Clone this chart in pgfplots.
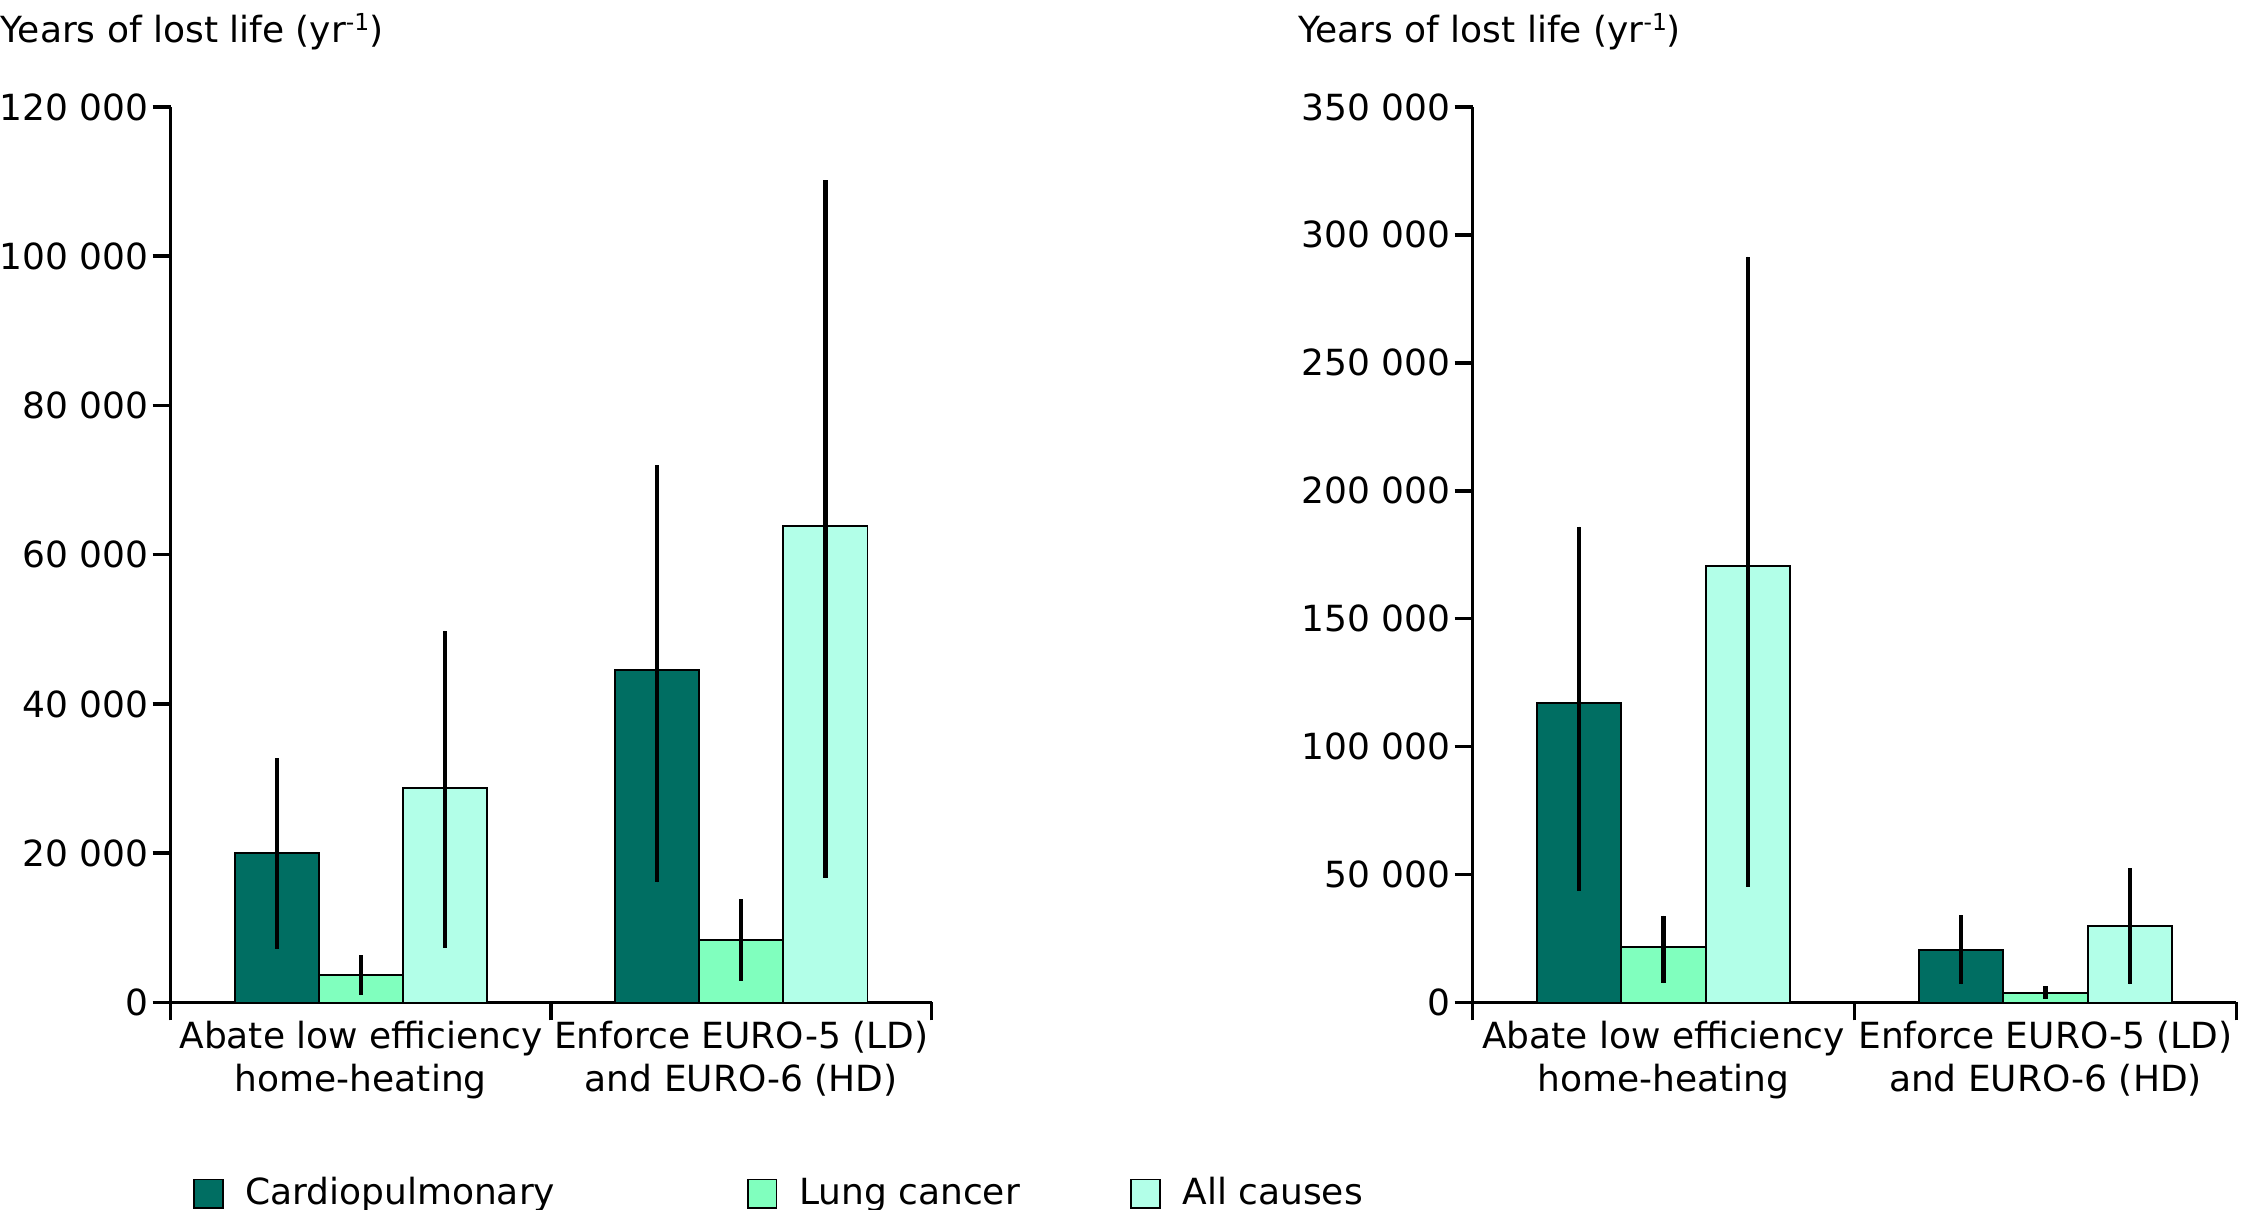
\documentclass[border=0pt]{standalone}
\usepackage{fontspec}
\setmainfont{DejaVu Sans}
\usepackage{pgfplots}
\pgfplotsset{compat=1.18}

\definecolor{cardio}{RGB}{0,110,98}
\definecolor{lung}{RGB}{128,255,190}
\definecolor{allc}{RGB}{178,255,232}

% bars sit at 0.279 / 0.5 / 0.721 inside each category (0-1, 1-2)
\pgfplotsset{
  yll/.style={
    scale only axis, height=248.8pt,
    font=\fontsize{10}{12}\selectfont,
    axis lines=left, axis line style={-, line width=1pt},
    tick style={black, line width=1pt}, tick align=outside, major tick length=5pt,
    xmin=0, xmax=2, xtick={0,1,2}, xticklabels={,,},
    extra x ticks={0.5,1.5},
    extra x tick labels={{Abate low efficiency\\home-heating},{Enforce EURO-5 (LD)\\and EURO-6 (HD)}},
    extra x tick style={major tick length=0pt,
      tick label style={align=center, inner sep=1pt, yshift=-4pt}},
    ymin=0, scaled y ticks=false,
    yticklabel style={inner sep=1pt},
    bar width=0.221,
    every axis plot/.append style={ybar, bar shift=0pt, draw=black, line width=0.5pt},
    error bars/y dir=both, error bars/y explicit, error bars/error mark=none,
    error bars/error bar style={line width=1.2pt, black},
  },
}

\begin{document}
\begin{tikzpicture}
  \begin{axis}[yll, name=L, width=211.4pt, ymax=120000,
      ytick={0,20000,40000,60000,80000,100000,120000},
      yticklabels={0,20 000,40 000,60 000,80 000,100 000,120 000},
      legend columns=3,
      legend image code/.code={\draw[#1, line width=0.5pt] (0pt,-4pt) rectangle (8pt,4pt);},
      legend style={draw=none, fill=none, at={(rel axis cs:0,0)}, anchor=west,
        xshift=6pt, yshift=-53.2pt, inner sep=0pt, column sep=0pt,
        font=\fontsize{10}{12}\selectfont},
    ]
    \addplot[fill=cardio] coordinates {
      (0.279,20000) += (0,12700) -= (0,12800)
      (1.279,44600) += (0,27400) -= (0,28500)
    };
    \addlegendentry{\hspace*{4pt}\makebox[137.4pt][l]{Cardiopulmonary}}
    \addplot[fill=lung] coordinates {
      (0.5,3650) += (0,2650) -= (0,2650)
      (1.5,8400) += (0,5400) -= (0,5500)
    };
    \addlegendentry{\hspace*{4pt}\makebox[90pt][l]{Lung cancer}}
    \addplot[fill=allc] coordinates {
      (0.721,28700) += (0,21100) -= (0,21400)
      (1.721,63800) += (0,46400) -= (0,47100)
    };
    \addlegendentry{\hspace*{4pt}All causes}
  \end{axis}

  \begin{axis}[yll, name=R, at={(361.7pt,0pt)}, width=212.2pt, ymax=350000,
      ytick={0,50000,100000,150000,200000,250000,300000,350000},
      yticklabels={0,50 000,100 000,150 000,200 000,250 000,300 000,350 000}]
    \addplot[fill=cardio] coordinates {
      (0.279,117000) += (0,69000) -= (0,73400)
      (1.279,20600) += (0,13600) -= (0,13500)
    };
    \addplot[fill=lung] coordinates {
      (0.5,21700) += (0,12200) -= (0,14100)
      (1.5,3600) += (0,2700) -= (0,2300)
    };
    \addplot[fill=allc] coordinates {
      (0.721,170500) += (0,121000) -= (0,125200)
      (1.721,30000) += (0,22500) -= (0,22900)
    };
  \end{axis}

  \node[anchor=base west, inner sep=0pt, font=\fontsize{10}{12}\selectfont]
    at ([xshift=-47.4pt, yshift=18pt]L.north west) {Years of lost life (yr{\fontsize{6.5}{7}\selectfont\raisebox{0.9ex}{-1}})};
  \node[anchor=base west, inner sep=0pt, font=\fontsize{10}{12}\selectfont]
    at ([xshift=-48.6pt, yshift=18pt]R.north west) {Years of lost life (yr{\fontsize{6.5}{7}\selectfont\raisebox{0.9ex}{-1}})};

  \pgfresetboundingbox
  \path (-47.4pt,-57.4pt) rectangle (578.8pt,278.5pt);
\end{tikzpicture}
\end{document}
